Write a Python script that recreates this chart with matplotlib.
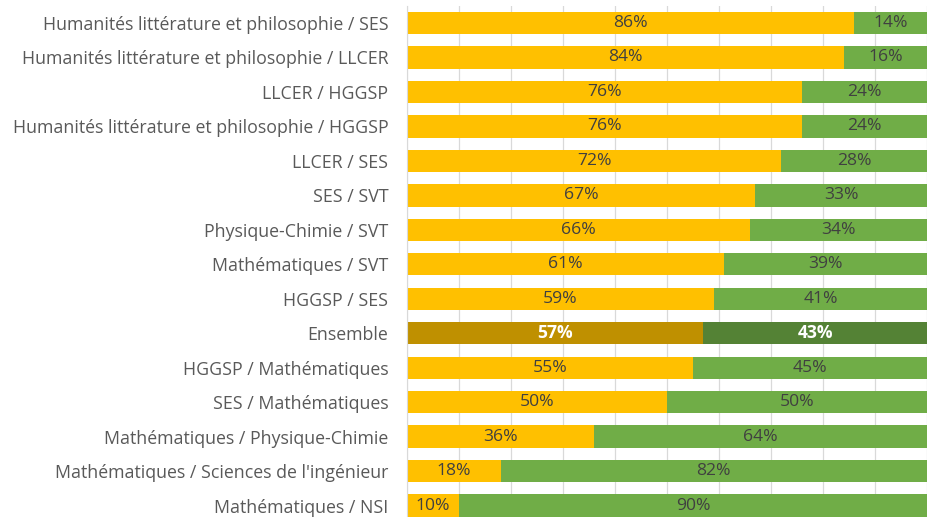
import numpy as np
import matplotlib
matplotlib.use("Agg")
import matplotlib.pyplot as plt

plt.rcParams['font.family'] = ['Open Sans', 'DejaVu Sans']

categories = [
    "Humanités littérature et philosophie / SES",
    "Humanités littérature et philosophie / LLCER",
    "LLCER / HGGSP",
    "Humanités littérature et philosophie / HGGSP",
    "LLCER / SES",
    "SES / SVT",
    "Physique-Chimie / SVT",
    "Mathématiques / SVT",
    "HGGSP / SES",
    "Ensemble",
    "HGGSP / Mathématiques",
    "SES / Mathématiques",
    "Mathématiques / Physique-Chimie",
    "Mathématiques / Sciences de l'ingénieur",
    "Mathématiques / NSI",
]
part_a = [86, 84, 76, 76, 72, 67, 66, 61, 59, 57, 55, 50, 36, 18, 10]
part_b = [14, 16, 24, 24, 28, 33, 34, 39, 41, 43, 45, 50, 64, 82, 90]

yellow, green = "#FFC000", "#70AD47"
yellow_dk, green_dk = "#BF9000", "#548235"
txt = "#404040"

fig = plt.figure(figsize=(9.27, 5.17), dpi=100)
ax = fig.add_axes([407 / 927, 0, 520 / 927, 1 - 5.7 / 517])

y = np.arange(len(categories))
col_a = [yellow_dk if c == "Ensemble" else yellow for c in categories]
col_b = [green_dk if c == "Ensemble" else green for c in categories]
ax.barh(y, part_a, height=0.65, color=col_a, zorder=2)
ax.barh(y, part_b, left=part_a, height=0.65, color=col_b, zorder=2)

for i, c in enumerate(categories):
    bold = c == "Ensemble"
    kw = dict(color="white" if bold else txt, fontweight="bold" if bold else "normal",
              fontsize=12.6, ha="center", va="center", zorder=3)
    ax.text(part_a[i] / 2, i, f"{part_a[i]}%", **kw)
    ax.text(part_a[i] + part_b[i] / 2, i, f"{part_b[i]}%", **kw)

ax.set_xlim(0, 520 / 5.28)
ax.set_ylim(14.33, -0.5)
ax.set_xticks(np.arange(0, 101, 10))
ax.xaxis.grid(True, color="#D9D9D9", linewidth=0.9, zorder=0)
ax.set_axisbelow(True)
ax.tick_params(axis="x", length=0, labelbottom=False)
ax.tick_params(axis="y", length=0, pad=13.5, labelsize=12.8, labelcolor="#595959")
ax.set_yticks(y)
ax.set_yticklabels(categories)
for s in ["top", "right", "bottom"]:
    ax.spines[s].set_visible(False)
ax.spines["left"].set_color("#D9D9D9")

fig.savefig("out.png", dpi=100)
